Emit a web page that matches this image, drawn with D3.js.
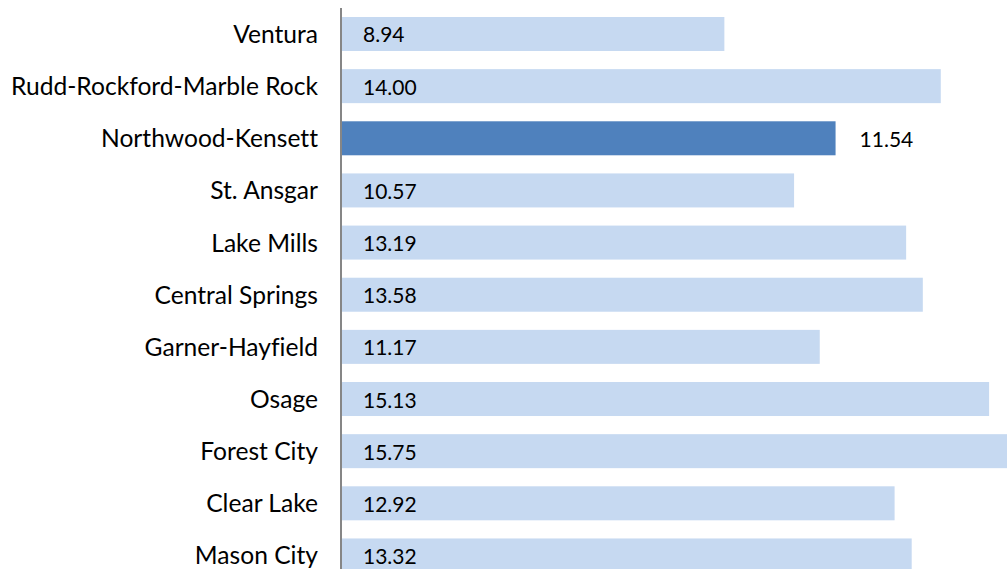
<!DOCTYPE html>
<html>
<head>
<meta charset="utf-8">
<script src="https://cdn.jsdelivr.net/npm/d3@7"></script>
<style>
  html, body { margin: 0; padding: 0; background: #fff; }
  svg { display: block; }
  text { font-variant-ligatures: none; }
</style>
</head>
<body>
<svg id="chart" width="1007" height="569"></svg>
<script>
// districts, top to bottom
const districts = [
  'Ventura', 'Rudd-Rockford-Marble Rock', 'Northwood-Kensett', 'St. Ansgar',
  'Lake Mills', 'Central Springs', 'Garner-Hayfield', 'Osage',
  'Forest City', 'Clear Lake', 'Mason City'
];
const values = [8.94, 14.00, 11.54, 10.57, 13.19, 13.58, 11.17, 15.13, 15.75, 12.92, 13.32];
const highlight = 'Northwood-Kensett';

const width = 1007, height = 569;
const svg = d3.select('#chart');

const x = d3.scaleLinear().domain([0, 16]).range([342, 342 + 16 * 42.77]);
const y = d3.scaleBand().domain(districts).range([-1.15, 590.6]).padding(0.348);

const rows = districts.map((name, i) => ({ name, value: values[i] }));

svg.append('g').selectAll('rect')
  .data(rows)
  .join('rect')
  .attr('x', x(0))
  .attr('y', d => y(d.name))
  .attr('width', d => x(d.value) - x(0))
  .attr('height', y.bandwidth())
  .attr('fill', d => d.name === highlight ? '#4f81bd' : '#c6d9f1');

// axis line
svg.append('line')
  .attr('x1', 341).attr('x2', 341)
  .attr('y1', 8).attr('y2', height)
  .attr('stroke', '#868686')
  .attr('stroke-width', 2);

// category labels
svg.append('g').selectAll('text')
  .data(rows)
  .join('text')
  .attr('x', 318)
  .attr('y', d => y(d.name) + y.bandwidth() / 2 + 9)
  .attr('text-anchor', 'end')
  .attr('font-family', 'Lato, "Open Sans", sans-serif')
  .attr('font-size', 24.6)
  .attr('fill', '#000')
  .text(d => d.name);

// value labels
svg.append('g').selectAll('text')
  .data(rows)
  .join('text')
  .attr('x', d => d.name === highlight ? x(d.value) + 24 : x(0) + 21)
  .attr('y', d => y(d.name) + y.bandwidth() / 2 + 8.5)
  .attr('font-family', 'Lato, "Open Sans", sans-serif')
  .attr('font-size', 21)
  .attr('fill', '#000')
  .text(d => d.value.toFixed(2));
</script>
</body>
</html>
